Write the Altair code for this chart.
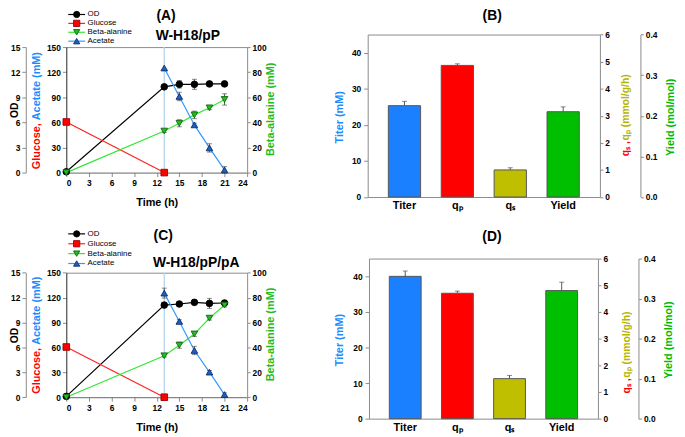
import altair as alt
import pandas as pd

W, H = 677, 429
FONT = "Liberation Sans"

# ---------------- data ----------------
times = [0, 13, 15, 17, 19, 21]
glc_times = [0, 13]
ace_times = [13, 15, 17, 19, 21]
vline_time = [13]
time_ticks = [0, 3, 6, 9, 12, 15, 18, 21, 24]
od_ticks = [0, 3, 6, 9, 12, 15]
ga_ticks = [0, 30, 60, 90, 120, 150]
beta_ticks = [0, 20, 40, 60, 80, 100]
titer_ticks = [0, 10, 20, 30, 40]
q_ticks = [0, 1, 2, 3, 4, 5, 6]
yield_ticks = [0.0, 0.1, 0.2, 0.3, 0.4]

series = ["OD", "Glucose", "Beta-alanine", "Acetate"]

od_A = [0.1, 10.25, 10.55, 10.55, 10.6, 10.6]
od_A_err = [0.0, 0.0, 0.45, 0.6, 0.2, 0.3]
glc_A = [60.5, 0]
beta_A = [0, 33.1, 39.3, 46.0, 51.6, 58.3]
beta_A_err = [0, 1.0, 2.8, 3.0, 1.5, 4.5]
ace_A = [125, 91, 57, 29.5, 3.2]
ace_A_err = [0, 5, 2, 5, 4]

od_C = [0.1, 11.1, 11.23, 11.43, 11.3, 11.35]
od_C_err = [0.0, 0.3, 0.2, 0.3, 0.6, 0.3]
glc_C = [60.5, 0]
beta_C = [0, 33.3, 41.8, 50.8, 63.5, 74.0]
beta_C_err = [0, 1.0, 2.5, 2.0, 1.5, 1.5]
ace_C = [125.4, 91.3, 56.3, 30.2, 3.2]
ace_C_err = [6, 2, 5, 2, 2]

bar_cats = ["Titer", "qₚ", "qₛ", "Yield"]
titer_B, titer_B_err = [25.3], [1.2]
q_B, q_B_err = [4.86, 1.0], [0.06, 0.08]
yield_B, yield_B_err = [0.21], [0.012]
titer_D, titer_D_err = [40.0], [1.5]
q_D, q_D_err = [4.70, 1.50], [0.08, 0.12]
yield_D, yield_D_err = [0.320], [0.021]

# ---------------- styles ----------------
GREY = "#8a8a8a"
ERR = "#555555"
line_colors = ["#000000", "#ff2020", "#33e633", "#3399ff"]
fill_colors = ["#000000", "#ff0000", "#22bb22", "#1f5fbf"]
edge_colors = ["#000000", "#990000", "#116611", "#0b2f6b"]
shapes = ["circle", "square", "triangle-down", "triangle-up"]
bar_colors = ["#1a80ff", "#ff0000", "#bfbf00", "#00bf00"]


def axis_common(**kw):
    base = dict(grid=False, labelFont=FONT, labelFontSize=8.5, labelFontWeight="bold",
                labelColor="black", titleFont=FONT, titleFontSize=11, titleFontWeight="bold",
                domainColor=GREY, tickColor=GREY, tickSize=4, labelPadding=2)
    base.update(kw)
    return alt.Axis(**base)


def yaxis(orient, xpos, **kw):
    off = -xpos if orient == "left" else xpos - W
    kw.setdefault("titleAngle", 270)
    kw.setdefault("titleBaseline", "middle")
    return axis_common(orient=orient, offset=off, **kw)


def xaxis(orient, ypos, **kw):
    off = ypos - H if orient == "bottom" else -ypos
    return axis_common(orient=orient, offset=off, **kw)


def frame_top(ypos):
    return xaxis("top", ypos, labels=False, ticks=False, title=None)


def text_layer(txt, x, y, size=14):
    return alt.Chart(pd.DataFrame({"s": [txt]})).mark_text(
        font=FONT, fontSize=size, fontWeight="bold", color="black",
        align="center", baseline="middle").encode(
        x=alt.value(x), y=alt.value(y), text="s:N")


def legend_layers(x_line0, x_sym, x_line1, x_text, y_first, y_last):
    ldf = pd.DataFrame({"series": series})
    ys = alt.Scale(type="point", domain=series, range=[y_first, y_last], padding=0)
    Y = alt.Y("series:N", scale=ys, axis=None, sort=None)
    stub = alt.Chart(ldf).mark_rule(strokeWidth=1.2).encode(
        x=alt.value(x_line0), x2=alt.value(x_line1), y=Y,
        color=alt.Color("series:N", scale=alt.Scale(domain=series, range=line_colors), legend=None))
    sym = alt.Chart(ldf).mark_point(filled=True, size=40, opacity=1, strokeWidth=0.9).encode(
        x=alt.value(x_sym), y=Y,
        shape=alt.Shape("series:N", scale=alt.Scale(domain=series, range=shapes), legend=None),
        fill=alt.Fill("series:N", scale=alt.Scale(domain=series, range=fill_colors), legend=None),
        stroke=alt.Stroke("series:N", scale=alt.Scale(domain=series, range=edge_colors), legend=None))
    lab = alt.Chart(ldf).mark_text(font=FONT, fontSize=8, color="black", align="left",
                                   baseline="middle").encode(
        x=alt.value(x_text), y=Y, text="series:N")
    return [stub, sym, lab]


def line_panel(xr, yb, yt, od, od_err, glc, beta, beta_err, ace, ace_err, leg_y0, leg_y1):
    xs = alt.Scale(domain=[0, 24], range=xr, nice=False, zero=False)

    def ys(top):
        return alt.Scale(domain=[0, top], range=[yb, yt], nice=False, zero=False)

    od_s, ga_s, beta_s = ys(15), ys(150), ys(100)
    mid = (yb + yt) / 2
    main = pd.DataFrame({"t": times, "od": od, "od_err": od_err,
                         "beta": beta, "beta_err": beta_err})
    gdf = pd.DataFrame({"t": glc_times, "glc": glc})
    adf = pd.DataFrame({"t": ace_times, "ace": ace, "ace_err": ace_err})
    vdf = pd.DataFrame({"t": vline_time, "lo": [0], "hi": [150]})

    def X(axis=None):
        return alt.X("t:Q", scale=xs, axis=axis)

    time_axis = xaxis("bottom", yb, values=time_ticks, title="Time (h)", titleX=(xr[0] + xr[1]) / 2,
                      titleY=30.5, titleBaseline="middle", domainColor="#666666")
    od_axis = yaxis("left", 18, values=od_ticks, title="OD", titleX=-11.5, titleY=mid,
                    titleFontSize=10.5)
    glc_axis = yaxis("left", xr[0], values=ga_ticks, title="Glucose,", titleColor="#ff0000",
                     titleAlign="left", titleX=-30, titleY=yb - 4, domainColor="#222222")
    ace_axis = yaxis("left", xr[0], labels=False, ticks=False, domain=False, title="Acetate (mM)",
                     titleColor="#1a8cff", titleAlign="left", titleX=-30, titleY=yb - 4 - 49.5)
    beta_axis = yaxis("right", xr[1], values=beta_ticks, title="Beta-alanine (mM)",
                      titleColor="#22bb22", titleX=24, titleY=mid - 1, labelPadding=2, tickSize=3)

    layers = []
    layers.append(alt.Chart(vdf).mark_rule(color="#b3d5ef", strokeWidth=1.3).encode(
        x=X(frame_top(yt)), y=alt.Y("lo:Q", scale=ga_s, axis=None), y2="hi:Q"))
    layers.append(alt.Chart(main).mark_line(color=line_colors[0], strokeWidth=1.2).encode(
        x=X(time_axis), y=alt.Y("od:Q", scale=od_s, axis=od_axis)))
    layers.append(alt.Chart(gdf).mark_line(color=line_colors[1], strokeWidth=1.2).encode(
        x=X(), y=alt.Y("glc:Q", scale=ga_s, axis=glc_axis)))
    layers.append(alt.Chart(main).mark_line(color=line_colors[2], strokeWidth=1.2).encode(
        x=X(), y=alt.Y("beta:Q", scale=beta_s, axis=beta_axis)))
    layers.append(alt.Chart(adf).mark_line(color=line_colors[3], strokeWidth=1.2).encode(
        x=X(), y=alt.Y("ace:Q", scale=ga_s, axis=ace_axis)))

    def errs(df, field, efield, scale):
        base = alt.Chart(df).transform_filter(f"datum.{efield} > 0").transform_calculate(
            lo=f"datum.{field} - datum.{efield}", hi=f"datum.{field} + datum.{efield}")
        r = base.mark_rule(color=ERR, strokeWidth=1).encode(
            x=X(), y=alt.Y("lo:Q", scale=scale, axis=None), y2="hi:Q")
        c = base.transform_fold(["lo", "hi"], as_=["k", "v"]).mark_tick(
            orient="horizontal", size=5, thickness=1, color=ERR).encode(
            x=X(), y=alt.Y("v:Q", scale=scale, axis=None))
        return [r, c]

    layers += errs(main, "od", "od_err", od_s)
    layers += errs(main, "beta", "beta_err", beta_s)
    layers += errs(adf, "ace", "ace_err", ga_s)

    def pts(df, field, scale, i):
        return alt.Chart(df).mark_point(shape=shapes[i], filled=True, size=45, fill=fill_colors[i],
                                        stroke=edge_colors[i], strokeWidth=0.9, opacity=1).encode(
            x=X(), y=alt.Y(f"{field}:Q", scale=scale, axis=None))

    layers.append(pts(main, "od", od_s, 0))
    layers.append(pts(gdf, "glc", ga_s, 1))
    layers.append(pts(main, "beta", beta_s, 2))
    layers.append(pts(adf, "ace", ga_s, 3))

    layers += legend_layers(61, 69.5, 78, 80.5, leg_y0, leg_y1)
    return layers


def bar_panel(xr, yb, yt, titer, titer_err, q, q_err, yld, yld_err,
              tx_titer, tx_q, tx_yield, yield_x, q_red_y):
    xs = alt.Scale(type="band", domain=bar_cats, range=xr, paddingInner=0.39, paddingOuter=0.39)
    cs = alt.Scale(domain=bar_cats, range=bar_colors)

    def ys(top):
        return alt.Scale(domain=[0, top], range=[yb, yt], nice=False, zero=True)

    titer_s, q_s, y_s = ys(45), ys(6), ys(0.4)
    mid = (yb + yt) / 2
    tdf = pd.DataFrame({"cat": bar_cats[:1], "val": titer, "err": titer_err})
    qdf = pd.DataFrame({"cat": bar_cats[1:3], "val": q, "err": q_err})
    ydf = pd.DataFrame({"cat": bar_cats[3:], "val": yld, "err": yld_err})

    def X(axis=None):
        return alt.X("cat:N", scale=xs, axis=axis, sort=None)

    cat_axis = xaxis("bottom", yb, ticks=False, labelPadding=3, labelFontSize=11,
                     labelAngle=0, title=None)
    titer_axis = yaxis("left", xr[0], values=titer_ticks, title="Titer (mM)", titleColor="#1a8cff",
                       titleX=tx_titer, titleY=mid + 1, labelPadding=3)
    q_axis = yaxis("right", xr[1], values=q_ticks, title="qₛ ,", titleColor="#ff0000",
                   titleAlign="left", titleX=tx_q, titleY=q_red_y, titleFontSize=10.5,
                   tickSize=3, labelPadding=2)
    q2_axis = yaxis("right", xr[1], labels=False, ticks=False, domain=False,
                    title="qₚ (mmol/g/h)", titleColor="#b5b500", titleAlign="left",
                    titleX=tx_q, titleY=q_red_y - 16, titleFontSize=10.5)
    yield_axis = yaxis("right", yield_x, values=yield_ticks, format=".1f", title="Yield (mol/mol)",
                       titleColor="#00bb00", titleX=tx_yield, titleY=mid + 1, tickSize=3,
                       labelPadding=2)

    layers = []

    def bars(df, scale, xa, ya):
        return alt.Chart(df).mark_bar(stroke="#555555", strokeWidth=1).encode(
            x=X(xa), y=alt.Y("val:Q", scale=scale, axis=ya),
            color=alt.Color("cat:N", scale=cs, legend=None))

    def errs(df, scale, ya=None):
        base = alt.Chart(df).transform_calculate(hi="datum.val + datum.err")
        r = base.mark_rule(color=ERR, strokeWidth=1).encode(
            x=X(), y=alt.Y("val:Q", scale=scale, axis=ya), y2="hi:Q")
        c = base.mark_tick(orient="horizontal", size=5, thickness=1, color=ERR).encode(
            x=X(), y=alt.Y("hi:Q", scale=scale, axis=None))
        return [r, c]

    layers.append(bars(tdf, titer_s, cat_axis, titer_axis))
    layers.append(bars(qdf, q_s, frame_top(yt), q_axis))
    layers.append(bars(ydf, y_s, None, yield_axis))
    layers += errs(tdf, titer_s)
    layers += errs(qdf, q_s, q2_axis)
    layers += errs(ydf, y_s)
    return layers


layers = []
layers += line_panel([59, 242], 164, 37, od_A, od_A_err, glc_A, beta_A, beta_A_err, ace_A, ace_A_err,
                     leg_y0=4, leg_y1=31)
layers += line_panel([59, 242], 391.3, 265.3, od_C, od_C_err, glc_C, beta_C, beta_C_err, ace_C, ace_C_err,
                     leg_y0=226, leg_y1=256)
layers += bar_panel([364, 599], 188.7, 24.3, titer_B, titer_B_err, q_B, q_B_err, yield_B, yield_B_err,
                    tx_titer=-29, tx_q=26, tx_yield=30, yield_x=640, q_red_y=147)
layers += bar_panel([365.3, 597], 413, 251, titer_D, titer_D_err, q_D, q_D_err, yield_D, yield_D_err,
                    tx_titer=-30, tx_q=29, tx_yield=30.5, yield_x=638, q_red_y=387)
layers += [
    text_layer("(A)", 160, 5.5),
    text_layer("W-H18/pP", 182, 25.5),
    text_layer("(B)", 490, 5.5),
    text_layer("(C)", 157, 228.7),
    text_layer("W-H18/pP/pA", 190.5, 255.5),
    text_layer("(D)", 489.7, 229),
]

chart = alt.layer(*layers).resolve_scale(
    x="independent", y="independent", color="independent", fill="independent",
    stroke="independent", shape="independent").resolve_axis(
    x="independent", y="independent").properties(
    width=W, height=H, autosize=alt.AutoSizeParams(type="none"), padding=0
).configure(font=FONT).configure_view(stroke=None)

chart.save("out.html", embed_options={"renderer": "svg", "actions": False})
